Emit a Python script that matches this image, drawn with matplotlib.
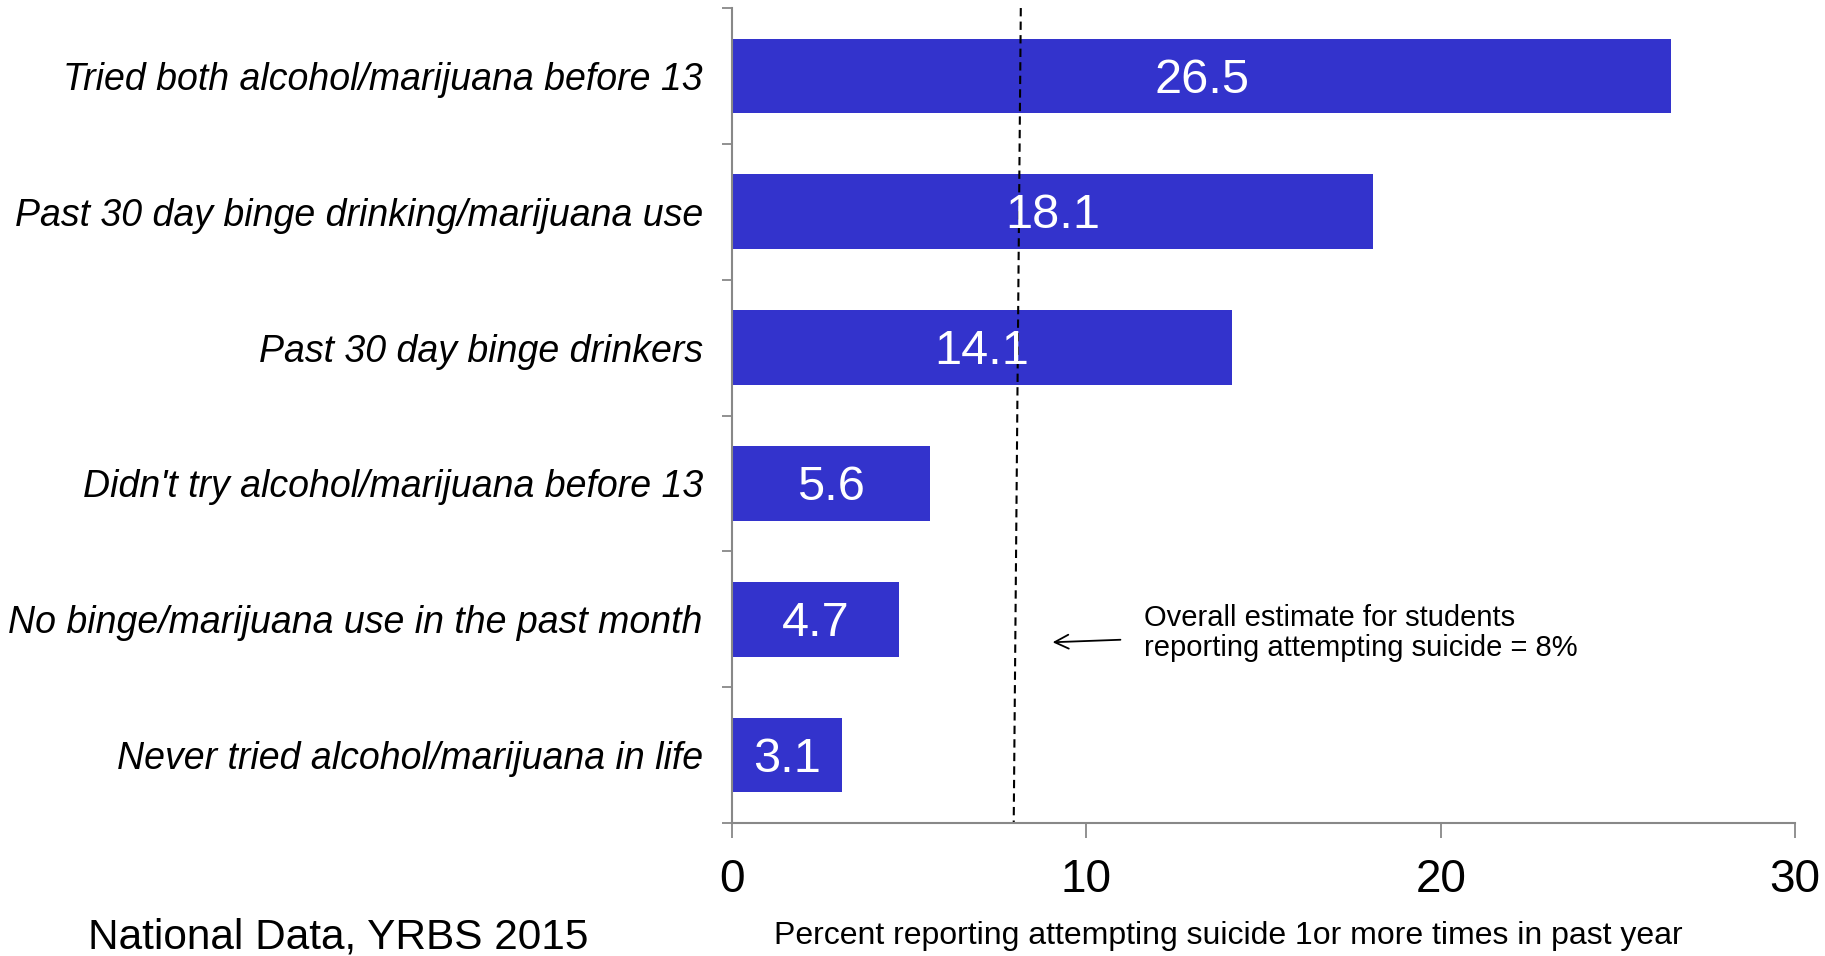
import matplotlib.pyplot as plt

# dane
kategorie = ["Tried both alcohol/marijuana before 13",
             "Past 30 day binge drinking/marijuana use",
             "Past 30 day binge drinkers",
             "Didn't try alcohol/marijuana before 13",
             "No binge/marijuana use in the past month",
             "Never tried alcohol/marijuana in life"]
wartosci = [26.5, 18.1, 14.1, 5.6, 4.7, 3.1]
srednia = 8
x_ticks = [0, 10, 20, 30]

kolor = "#3333CC"
szary = "#888888"
plt.rcParams['font.family'] = ['Liberation Sans', 'DejaVu Sans']

fig = plt.figure(figsize=(18.25, 9.56), dpi=100)
ax = fig.add_axes([0.4011, 0.1391, 0.5825, 0.8525])

pozycje = list(range(len(kategorie)))
ax.barh(pozycje, wartosci, height=0.55, color=kolor)
for p, v in zip(pozycje, wartosci):
    ax.text(v / 2, p + 0.03, str(v), color="white", fontsize=35, ha="center", va="center")

ax.set_ylim(len(kategorie) - 0.5, -0.5)
ax.set_xlim(0, 30)

# linia przerywana (lekko pochylona jak w oryginale)
pochylenie = 0.1
ax.plot([srednia + pochylenie * 1.5, srednia - pochylenie * 0.5], [-0.5, len(kategorie) - 0.5],
        color="black", ls=(0, (4, 2.5)), lw=1.5, clip_on=False)

ax.annotate("", xy=(srednia + 0.97, 4.17), xytext=(srednia + 3.04, 4.15),
            arrowprops=dict(arrowstyle="->", color="black", lw=1.3, mutation_scale=25))
ax.text(srednia + 3.63, 4.1, "Overall estimate for students\nreporting attempting suicide = 8%",
        fontsize=21, ha="left", va="center", linespacing=1.12)

# osie
ax.set_yticks(pozycje)
ax.set_yticklabels(kategorie, fontsize=27, style="italic")
ax.set_yticks([p - 0.5 for p in pozycje] + [len(kategorie) - 0.5], minor=True)
ax.tick_params(axis="y", which="major", length=0, pad=21)
ax.tick_params(axis="y", which="minor", length=7, width=1.3, color=szary)
ax.set_xticks(x_ticks)
ax.set_xticklabels([str(t) for t in x_ticks], fontsize=33)
ax.tick_params(axis="x", length=11, width=1.3, color=szary, pad=14)

for s in ["top", "right"]:
    ax.spines[s].set_visible(False)
for s in ["left", "bottom"]:
    ax.spines[s].set_color(szary)
    ax.spines[s].set_linewidth(1.5)

ax.set_xlabel("Percent reporting attempting suicide 1or more times in past year", fontsize=23, va="center")
ax.xaxis.set_label_coords(0.4666, -0.139)
fig.text(88 / 1825, 1 - 937 / 956, "National Data, YRBS 2015", fontsize=30.5, ha="left", va="center")

plt.savefig("out.png", dpi=100)
plt.close()
